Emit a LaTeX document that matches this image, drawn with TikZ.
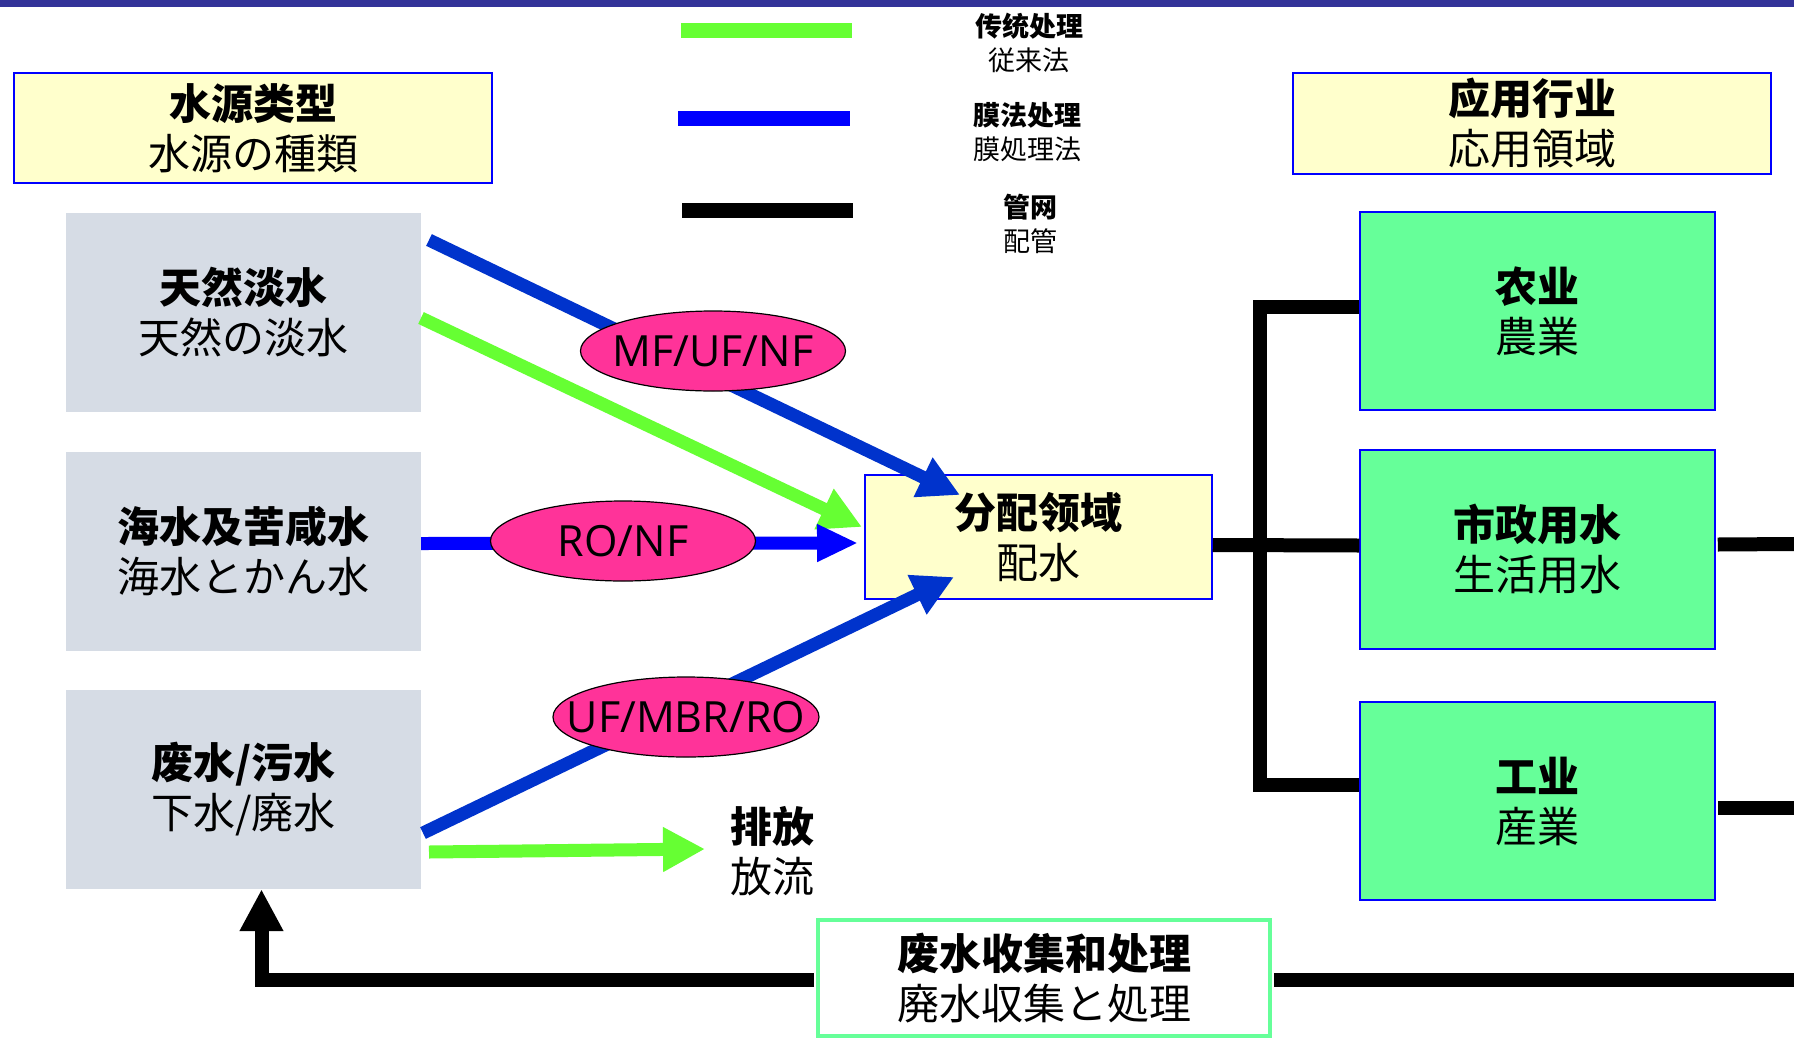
\documentclass[tikz,border=0pt]{standalone}
\usepackage{fontspec}
\newfontfamily\cjk{Noto Sans CJK SC}
\newfontfamily\jpf{Noto Sans CJK JP}
\newfontfamily\latf{Open Sans}
\usetikzlibrary{arrows.meta,shapes.geometric,calc}
\definecolor{barblue}{HTML}{333399}
\definecolor{titlefill}{HTML}{FFFFCC}
\definecolor{srcgray}{HTML}{D6DCE5}
\definecolor{appgreen}{HTML}{66FF99}
\definecolor{pinkfill}{HTML}{FF3399}
\definecolor{diagblue}{HTML}{0033CC}
\definecolor{pureblue}{HTML}{0000FF}
\definecolor{lgreen}{HTML}{66FF33}
\newcommand{\ztext}[1]{\makebox[0pt][c]{#1}}
\begin{document}
\begin{tikzpicture}[x=1pt,y=-1pt,
  bigtxt/.style={font=\cjk\fontsize{42}{50}\selectfont, align=center, text=black},
  titlebox/.style={bigtxt, draw=pureblue, line width=1.5pt, fill=titlefill, inner sep=0pt},
  srcbox/.style={bigtxt, fill=srcgray, inner sep=0pt, minimum width=355pt, minimum height=199pt},
  appbox/.style={bigtxt, draw=pureblue, line width=1.5pt, fill=appgreen, inner sep=0pt, minimum width=355pt, minimum height=198pt},
  proc/.style={ellipse, draw=black, line width=1.2pt, fill=pinkfill, minimum width=265pt, minimum height=80pt, inner sep=0pt, font=\latf\fontsize{43}{50}\selectfont},
  legtxt/.style={font=\cjk\fontsize{27}{34}\selectfont, align=center, inner sep=0pt},
  swatch/.style={line width=15pt},
  pipe/.style={draw=black, line width=14pt},
  membarrow/.style={draw=diagblue, line width=13pt, -{Triangle[length=41pt,width=41pt]}},
  roarrow/.style={draw=pureblue, line width=13pt, -{Triangle[length=41pt,width=35pt]}},
  convarrow/.style={draw=lgreen, line width=13pt, -{Triangle[length=42pt,width=42pt]}},
]
\useasboundingbox (0,0) rectangle (1794,1039);
\fill[white] (0,0) rectangle (1794,1039);
\fill[barblue] (0,0) rectangle (1794,7);

% legend
\coordinate (lg1a) at (681,30); \coordinate (lg1b) at (852,30);
\coordinate (lg2a) at (678,118); \coordinate (lg2b) at (850,118);
\coordinate (lg3a) at (682,210); \coordinate (lg3b) at (853,210);
\draw[swatch, lgreen] (lg1a) -- (lg1b);
\draw[swatch, pureblue] (lg2a) -- (lg2b);
\draw[swatch, black] (lg3a) -- (lg3b);
\node[legtxt] (lt1) at (1029,43) {{\bfseries 传统处理}\\{\jpf 従来法}};
\node[legtxt] (lt2) at (1027,132) {{\bfseries 膜法处理}\\{\jpf 膜処理法}};
\node[legtxt] (lt3) at (1030,224) {{\bfseries 管网}\\{\jpf 配管}};

% title boxes
\node[titlebox, minimum width=478pt, minimum height=110pt] (th1) at (253,128) {{\bfseries 水源类型}\\{\jpf 水源の種類}};
\node[titlebox, minimum width=478pt, minimum height=101pt] (th2) at (1532,123.5) {{\bfseries 应用行业}\\{\jpf 応用領域}};

% source boxes
\node[srcbox] (src1) at (243.5,312.5) {{\bfseries 天然淡水}\\{\jpf 天然の淡水}};
\node[srcbox] (src2) at (243.5,551.5) {{\bfseries 海水及苦咸水}\\{\jpf 海水とかん水}};
\node[srcbox] (src3) at (243.5,789.5) {{\bfseries 废水/污水}\\{\jpf 下水/廃水}};

% distribution
\node[titlebox, minimum width=347pt, minimum height=124pt] (dist) at (1038.5,537) {{\bfseries 分配领域}\\{\jpf 配水}};

% application boxes
\node[appbox] (ag) at (1537.5,311) {{\bfseries 农业}\\{\jpf 農業}};
\node[appbox, minimum height=199pt] (mu) at (1537.5,549.5) {{\bfseries 市政用水}\\{\jpf 生活用水}};
\node[appbox] (ind) at (1537.5,801) {{\bfseries 工业}\\{\jpf 産業}};

% discharge
\node[bigtxt, inner sep=0pt] (dis) at (772,851) {{\bfseries 排放}\\{\jpf 放流}};

% pipe network
\coordinate (jt) at (1260,300);
\coordinate (jb) at (1260,792);
\draw[pipe] (jt) -- (jb);
\draw[pipe] (1260,307) -- ($(ag.west)+(0,-4)$);
\draw[pipe] ($(dist.east)+(0,8)$) -- ($(mu.west)+(0,-4)$);
\draw[pipe] (1260,785) -- ($(ind.west)+(0,-16)$);
\coordinate (r1) at (1794,544);
\coordinate (r2) at (1794,808);
\draw[pipe] ($(mu.east)+(2,-5)$) -- (r1);
\draw[pipe] ($(ind.east)+(2,7)$) -- (r2);

% wastewater collection
\node[bigtxt, draw=appgreen, line width=4pt, fill=white, minimum width=452pt, minimum height=116pt, inner sep=0pt] (ww) at (1044,978) {{\bfseries 废水收集和处理}\\{\jpf 廃水収集と処理}};
\coordinate (r3) at (1794,980);
\coordinate (fb) at ($(src3.south)+(18,0)$);
\draw[pipe, line join=miter, -{Triangle[length=42pt,width=41pt]}] ($(ww.west)+(-2,2)$) -| (fb);
\draw[pipe] ($(ww.east)+(2,2)$) -- (r3);

% arrows
\coordinate (a1s) at (429,240); \coordinate (a1e) at (960,495);
\coordinate (a2s) at (421,318); \coordinate (a2e) at (862,527);
\coordinate (a3s) at ($(src2.east)+(0,-8)$); \coordinate (a3e) at (858,543);
\coordinate (a4s) at (423,833); \coordinate (a4e) at (954,577);
\coordinate (a5s) at (429,852); \coordinate (a5e) at (705,849);
\draw[membarrow] (a1s) -- (a1e);
\draw[convarrow] (a2s) -- (a2e);
\draw[roarrow] (a3s) -- (a3e);
\draw[membarrow] (a4s) -- (a4e);
\draw[convarrow] (a5s) -- (a5e);

% process ellipses
\node[proc] (e1) at (713,351) {\ztext{MF/UF/NF}};
\node[proc] (e2) at (623,541) {\ztext{RO/NF}};
\node[proc, minimum width=266pt] (e3) at (686,717) {\ztext{UF/MBR/RO}};
\end{tikzpicture}
\end{document}
